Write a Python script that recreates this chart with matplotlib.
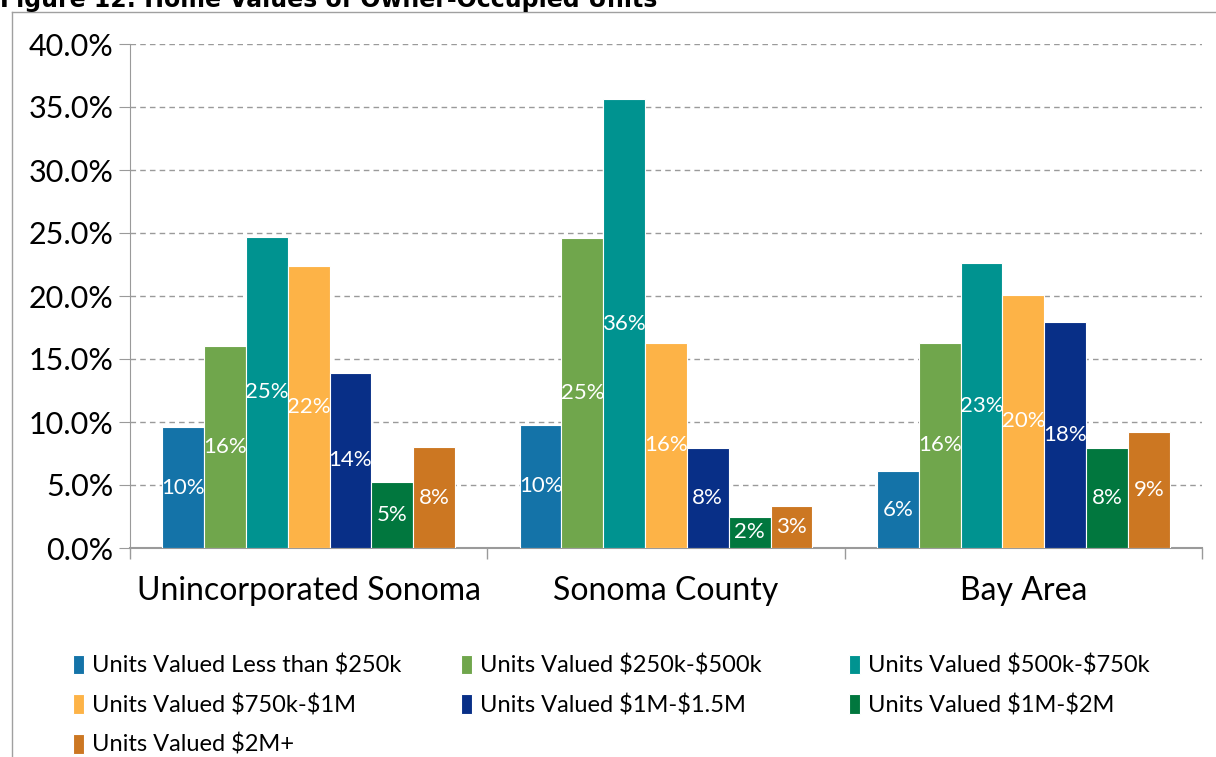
import numpy as np
import matplotlib
matplotlib.use("Agg")
import matplotlib.pyplot as plt
from matplotlib.lines import Line2D

plt.rcParams["text.parse_math"] = False

CATEGORIES = ["Unincorporated Sonoma", "Sonoma County", "Bay Area"]
SERIES_NAMES = [
    "Units Valued Less than $250k",
    "Units Valued $250k-$500k",
    "Units Valued $500k-$750k",
    "Units Valued $750k-$1M",
    "Units Valued $1M-$1.5M",
    "Units Valued $1M-$2M",
    "Units Valued $2M+",
]
# percent of owner-occupied units, one list per series (uninc, county, bay)
LESS_250K = [9.6, 9.8, 6.1]
K250_500K = [16.0, 24.6, 16.3]
K500_750K = [24.7, 35.6, 22.6]
K750_1M = [22.4, 16.3, 20.1]
M1_15M = [13.9, 7.9, 17.9]
M1_2M = [5.2, 2.5, 7.9]
M2_PLUS = [8.0, 3.3, 9.2]
Y_TICKS = [0, 5, 10, 15, 20, 25, 30, 35, 40]

COLORS = ["#1473A8", "#70A64C", "#009390", "#FDB347", "#082F87", "#01773E", "#CC7722"]

FONT = ["Lato", "DejaVu Sans"]
GRID = "#9A9A9A"


def main():
    series = [LESS_250K, K250_500K, K500_750K, K750_1M, M1_15M, M1_2M, M2_PLUS]

    fig = plt.figure(figsize=(12.16, 7.57), dpi=100)
    ax = fig.add_axes([130 / 1216, 1 - 548 / 757, (1202 - 130) / 1216, (548 - 44) / 757])

    x = np.arange(len(CATEGORIES))
    width = 0.117
    n = len(series)
    for i, (vals, name, color) in enumerate(zip(series, SERIES_NAMES, COLORS)):
        pos = x + (i - (n - 1) / 2) * width
        bars = ax.bar(pos, vals, width=width, color=color, edgecolor="white",
                      linewidth=0.8, label=name, zorder=3)
        for b, v in zip(bars, vals):
            ax.text(b.get_x() + b.get_width() / 2, v / 2, f"{v:.0f}%",
                    ha="center", va="center", color="white", fontsize=16,
                    family=FONT, zorder=4)

    ax.set_xlim(-0.5, len(CATEGORIES) - 0.5)
    ax.set_ylim(0, 40)
    ax.set_yticks(Y_TICKS)
    ax.set_yticklabels([f"{t:.1f}%" for t in Y_TICKS], family=FONT, fontsize=22)
    ax.set_xticks(x)
    ax.set_xticklabels(CATEGORIES, family=FONT, fontsize=23)
    ax.tick_params(axis="x", length=0, pad=20)
    ax.tick_params(axis="y", length=8, color=GRID, pad=4)
    # group boundary ticks
    ax.set_xticks(np.arange(-0.5, len(CATEGORIES)), minor=True)
    ax.tick_params(axis="x", which="minor", length=8, color=GRID, width=1)

    ax.grid(axis="y", color=GRID, linestyle=(0, (4, 3)), linewidth=1, zorder=0)
    for side in ("top", "right"):
        ax.spines[side].set_visible(False)
    ax.spines["left"].set_color(GRID)
    ax.spines["bottom"].set_color(GRID)
    ax.spines["bottom"].set_linewidth(1.5)

    # legend laid out as three fixed columns, filled row-wise like Excel
    handles, labels = ax.get_legend_handles_labels()
    col_x = [64, 452, 840]
    for c, left in enumerate(col_x):
        idx = list(range(c, len(handles), 3))
        fig.legend([handles[k] for k in idx], [labels[k] for k in idx],
                   loc="upper left", bbox_to_anchor=(left / 1216, 1 - 645 / 757),
                   frameon=False, prop={"family": FONT, "size": 17},
                   handlelength=0.45, handleheight=0.9, handletextpad=0.35,
                   labelspacing=0.75, borderaxespad=0)

    # outer chart frame (partly cropped in the source image)
    fig.add_artist(Line2D([12 / 1216, 12 / 1216], [0, 1 - 12 / 757], color="#A0A0A0", lw=1))
    fig.add_artist(Line2D([12 / 1216, 1], [1 - 12 / 757, 1 - 12 / 757], color="#A0A0A0", lw=1))

    fig.text(0.0, 1 - 7 / 757, "Figure 12: Home Values of Owner-Occupied Units",
             fontsize=17, fontweight="bold", family="DejaVu Sans", va="baseline", ha="left")

    fig.savefig("out.png", dpi=100)


if __name__ == "__main__":
    main()
